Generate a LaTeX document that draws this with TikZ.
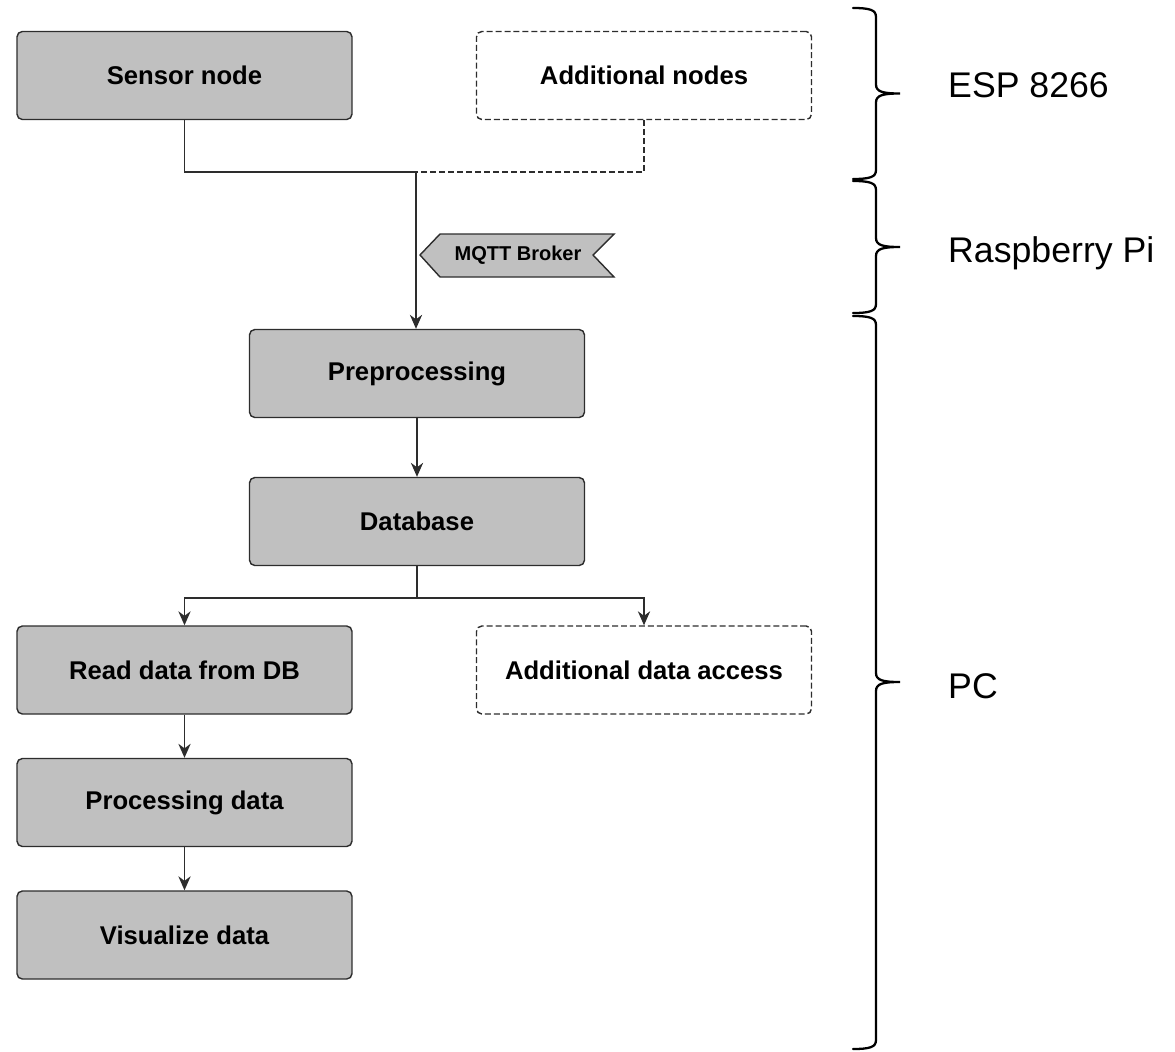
\documentclass[tikz,border=0pt]{standalone}
\usepackage{fontspec}
\setmainfont{Liberation Sans}
\usetikzlibrary{arrows.meta}
\pgfdeclarelayer{edgelayer}
\pgfdeclarelayer{nodelayer}
\pgfsetlayers{edgelayer,nodelayer,main}
\definecolor{boxgray}{RGB}{192,192,192}
\definecolor{linegray}{RGB}{45,45,45}
\tikzstyle{block}=[rectangle, rounded corners=3pt, draw=linegray, line width=0.8pt, fill=boxgray, minimum width=6.7cm, minimum height=1.76cm, font=\fontsize{14.6}{17}\selectfont\bfseries]
\tikzstyle{extra}=[block, fill=white, dash pattern=on 3.4pt off 1.7pt]
\tikzstyle{edge}=[draw=linegray, line width=0.8pt]
\tikzstyle{flow}=[edge, -{Stealth[length=8pt,width=7pt]}]
\tikzstyle{dashededge}=[edge, dash pattern=on 3.4pt off 1.7pt]
\tikzstyle{span}=[draw=black, line width=1.3pt, line cap=round]
\tikzstyle{device}=[anchor=west, font=\fontsize{20.3}{24}\selectfont]
% brace from y #1 to y #2 with its tip at #3
\newcommand{\hwbrace}[3]{%
	\draw [style=span] (853, #1) .. controls (870, #1) and (876, #1+2) .. (876, #1+9)
		-- (876, #3-9) .. controls (876, #3-2) and (882, #3) .. (900, #3)
		.. controls (882, #3) and (876, #3+2) .. (876, #3+9)
		-- (876, #2-9) .. controls (876, #2-2) and (870, #2) .. (853, #2);}

\begin{document}
\begin{tikzpicture}[x=0.02cm, y=-0.02cm]
				\useasboundingbox (0, 0) rectangle (1175, 1051);
				\begin{pgfonlayer}{nodelayer}
					\node [style=block] (0) at (184.5, 75.5) {Sensor node};
					\node [style=extra] (1) at (644, 75.5) {Additional nodes};
					\node [style=block] (2) at (417, 373.5) {Preprocessing};
					\node [style=block] (3) at (417, 521.5) {Database};
					\node [style=block] (4) at (184.5, 670) {Read data from DB};
					\node [style=extra] (5) at (644, 670) {Additional data access};
					\node [style=block] (6) at (184.5, 802.5) {Processing data};
					\node [style=block] (7) at (184.5, 935) {Visualize data};
					\draw [edge, fill=boxgray] (420, 255) -- (440, 234) -- (614, 234) -- (593, 255) -- (614, 277) -- (440, 277) -- cycle;
					\node [font=\fontsize{11.4}{13}\selectfont\bfseries] (8) at (518, 255) {MQTT Broker};
				\end{pgfonlayer}
				\begin{pgfonlayer}{edgelayer}
					\coordinate (9) at (416, 172);
					\coordinate (10) at (417, 598);
					\draw [style=edge] (0.south) |- (9);
					\draw [style=dashededge] (1.south) |- (9);
					\draw [style=flow] (9) -- (9 |- 2.north);
					\draw [style=flow] (2) -- (3);
					\draw [style=edge] (3.south) -- (10);
					\draw [style=flow] (10) -| (4.north);
					\draw [style=flow] (10) -| (5.north);
					\draw [style=flow] (4) -- (6);
					\draw [style=flow] (6) -- (7);
				\end{pgfonlayer}
				% hardware
				\hwbrace{8}{179}{93.5}
				\hwbrace{181}{313}{247}
				\hwbrace{316}{1049}{682}
				\node [style=device] (11) at (942, 85) {ESP 8266};
				\node [style=device] (12) at (942, 253) {Raspberry Pi};
				\node [style=device] (13) at (942, 686) {PC};
			\end{tikzpicture}
\end{document}
